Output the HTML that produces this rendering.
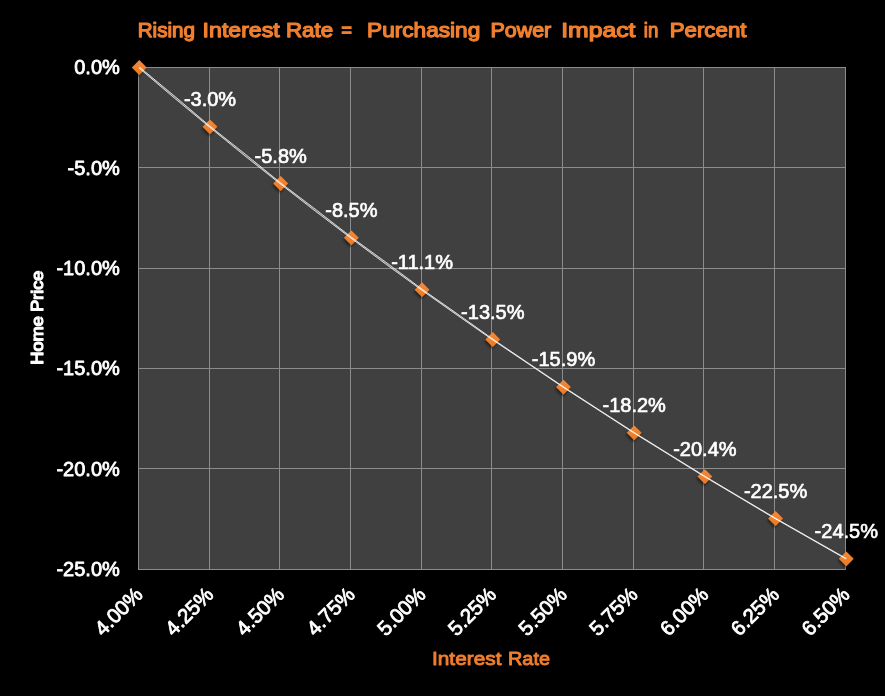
<!DOCTYPE html>
<html lang="en"><head><meta charset="utf-8"><title>Rising Interest Rate = Purchasing Power Impact in Percent</title>
<style>html,body{margin:0;padding:0;background:#000;overflow:hidden}svg{display:block}text{font-family:"Liberation Sans",Arial,sans-serif;font-weight:normal;stroke-linejoin:round}.w{fill:#fff;stroke:#fff}.o{fill:#F07F2E;stroke:#F07F2E}</style>
</head><body>
<svg width="885" height="696" viewBox="0 0 885 696">
<defs>
<filter id="sh" x="-60%" y="-60%" width="220%" height="220%"><feGaussianBlur in="SourceAlpha" stdDeviation="1.6"/><feOffset dx="-0.8" dy="1.6" result="b"/><feComponentTransfer><feFuncA type="linear" slope="0.55"/></feComponentTransfer><feMerge><feMergeNode/><feMergeNode in="SourceGraphic"/></feMerge></filter>
<linearGradient id="og" x1="0" y1="0" x2="0" y2="1"><stop offset="0" stop-color="#F28A3C"/><stop offset="1" stop-color="#EE7720"/></linearGradient>
</defs>
<rect x="0" y="0" width="885" height="696" fill="#000"/>
<rect x="138" y="67" width="708" height="503" fill="#404040"/>
<rect x="138" y="67" width="1" height="503" fill="#8c8c8c"/>
<rect x="209" y="67" width="1" height="503" fill="#8c8c8c"/>
<rect x="279" y="67" width="1" height="503" fill="#8c8c8c"/>
<rect x="350" y="67" width="1" height="503" fill="#8c8c8c"/>
<rect x="421" y="67" width="1" height="503" fill="#8c8c8c"/>
<rect x="491" y="67" width="1" height="503" fill="#8c8c8c"/>
<rect x="562" y="67" width="1" height="503" fill="#8c8c8c"/>
<rect x="633" y="67" width="1" height="503" fill="#8c8c8c"/>
<rect x="703" y="67" width="1" height="503" fill="#8c8c8c"/>
<rect x="774" y="67" width="1" height="503" fill="#8c8c8c"/>
<rect x="845" y="67" width="1" height="503" fill="#8c8c8c"/>
<rect x="138" y="67" width="708" height="1" fill="#8c8c8c"/>
<rect x="138" y="167" width="708" height="1" fill="#8c8c8c"/>
<rect x="138" y="268" width="708" height="1" fill="#8c8c8c"/>
<rect x="138" y="368" width="708" height="1" fill="#8c8c8c"/>
<rect x="138" y="468" width="708" height="1" fill="#8c8c8c"/>
<rect x="138" y="569" width="708" height="1" fill="#8c8c8c"/>
<text y="37.0" font-size="21" class="o" stroke-width="1.25"><tspan x="137.64" textLength="57.40" lengthAdjust="spacingAndGlyphs">Rising</tspan> <tspan x="202.62" textLength="77.07" lengthAdjust="spacingAndGlyphs">Interest</tspan> <tspan x="285.96" textLength="47.24" lengthAdjust="spacingAndGlyphs">Rate</tspan> <tspan x="341.25" textLength="10.76" lengthAdjust="spacingAndGlyphs">=</tspan> <tspan x="367.05" textLength="113.26" lengthAdjust="spacingAndGlyphs">Purchasing</tspan> <tspan x="490.40" textLength="60.87" lengthAdjust="spacingAndGlyphs">Power</tspan> <tspan x="561.15" textLength="74.33" lengthAdjust="spacingAndGlyphs">Impact</tspan> <tspan x="643.84" textLength="14.54" lengthAdjust="spacingAndGlyphs">in</tspan> <tspan x="669.66" textLength="76.84" lengthAdjust="spacingAndGlyphs">Percent</tspan></text>
<text x="119.8" y="74.1" font-size="20" class="w" stroke-width="0.8" text-anchor="end">0.0%</text>
<text x="119.8" y="174.5" font-size="20" class="w" stroke-width="0.8" text-anchor="end">-5.0%</text>
<text x="119.8" y="274.9" font-size="20" class="w" stroke-width="0.8" text-anchor="end">-10.0%</text>
<text x="119.8" y="375.3" font-size="20" class="w" stroke-width="0.8" text-anchor="end">-15.0%</text>
<text x="119.8" y="475.7" font-size="20" class="w" stroke-width="0.8" text-anchor="end">-20.0%</text>
<text x="119.8" y="576.1" font-size="20" class="w" stroke-width="0.8" text-anchor="end">-25.0%</text>
<text transform="translate(144.0,595.8) rotate(-45)" font-size="20.5" class="w" stroke-width="0.8" text-anchor="end">4.00%</text>
<text transform="translate(214.7,595.8) rotate(-45)" font-size="20.5" class="w" stroke-width="0.8" text-anchor="end">4.25%</text>
<text transform="translate(285.4,595.8) rotate(-45)" font-size="20.5" class="w" stroke-width="0.8" text-anchor="end">4.50%</text>
<text transform="translate(356.1,595.8) rotate(-45)" font-size="20.5" class="w" stroke-width="0.8" text-anchor="end">4.75%</text>
<text transform="translate(426.8,595.8) rotate(-45)" font-size="20.5" class="w" stroke-width="0.8" text-anchor="end">5.00%</text>
<text transform="translate(497.5,595.8) rotate(-45)" font-size="20.5" class="w" stroke-width="0.8" text-anchor="end">5.25%</text>
<text transform="translate(568.2,595.8) rotate(-45)" font-size="20.5" class="w" stroke-width="0.8" text-anchor="end">5.50%</text>
<text transform="translate(638.9,595.8) rotate(-45)" font-size="20.5" class="w" stroke-width="0.8" text-anchor="end">5.75%</text>
<text transform="translate(709.6,595.8) rotate(-45)" font-size="20.5" class="w" stroke-width="0.8" text-anchor="end">6.00%</text>
<text transform="translate(780.3,595.8) rotate(-45)" font-size="20.5" class="w" stroke-width="0.8" text-anchor="end">6.25%</text>
<text transform="translate(851.0,595.8) rotate(-45)" font-size="20.5" class="w" stroke-width="0.8" text-anchor="end">6.50%</text>
<text transform="translate(43.0,0) rotate(-90)" y="0" font-size="16" class="w" stroke-width="1.2"><tspan x="-364.74" textLength="48.73" lengthAdjust="spacingAndGlyphs">Home</tspan> <tspan x="-311.83" textLength="41.01" lengthAdjust="spacingAndGlyphs">Price</tspan></text>
<text y="665.4" font-size="18.67" class="o" stroke-width="0.9"><tspan x="432.03" textLength="69.40" lengthAdjust="spacingAndGlyphs">Interest</tspan> <tspan x="507.98" textLength="42.07" lengthAdjust="spacingAndGlyphs">Rate</tspan></text>
<g filter="url(#sh)">
<path d="M139.3 60.1 L146.7 67.5 L139.3 74.9 L131.9 67.5 Z" fill="url(#og)"/>
<path d="M210.0 119.4 L217.4 126.8 L210.0 134.2 L202.6 126.8 Z" fill="url(#og)"/>
<path d="M280.7 176.1 L288.1 183.5 L280.7 190.9 L273.3 183.5 Z" fill="url(#og)"/>
<path d="M351.4 230.4 L358.8 237.8 L351.4 245.2 L344.0 237.8 Z" fill="url(#og)"/>
<path d="M422.1 282.3 L429.5 289.7 L422.1 297.1 L414.7 289.7 Z" fill="url(#og)"/>
<path d="M492.8 332.1 L500.2 339.5 L492.8 346.9 L485.4 339.5 Z" fill="url(#og)"/>
<path d="M563.5 379.7 L570.9 387.1 L563.5 394.5 L556.1 387.1 Z" fill="url(#og)"/>
<path d="M634.2 425.4 L641.6 432.8 L634.2 440.2 L626.8 432.8 Z" fill="url(#og)"/>
<path d="M704.9 469.2 L712.3 476.6 L704.9 484.0 L697.5 476.6 Z" fill="url(#og)"/>
<path d="M775.6 511.1 L783.0 518.5 L775.6 525.9 L768.2 518.5 Z" fill="url(#og)"/>
<path d="M846.3 551.4 L853.7 558.8 L846.3 566.2 L838.9 558.8 Z" fill="url(#og)"/>
</g>
<polyline points="139.20,67.50 174.55,97.14 209.90,126.79 245.25,155.14 280.60,183.50 315.95,210.63 351.30,237.76 386.65,263.74 422.00,289.71 457.35,314.58 492.70,339.46 528.05,363.28 563.40,387.11 598.75,409.94 634.10,432.77 669.45,454.66 704.80,476.55 740.15,497.54 775.50,518.54 810.85,538.67 846.20,558.81" fill="none" stroke="#ffffff" stroke-opacity="0.35" stroke-width="1.2" stroke-linejoin="round"/>
<polyline points="139.52,67.12 175.06,96.53 210.22,126.40 245.75,154.52 280.91,183.10 316.44,210.00 351.60,237.36 387.12,263.09 422.29,289.31 457.70,314.09 492.90,339.17 528.19,363.08 563.54,386.90 598.89,409.73 634.23,432.56 669.58,454.45 704.93,476.34 740.28,497.33 775.63,518.32 810.97,538.46 846.32,558.59" fill="none" stroke="#ffffff" stroke-opacity="0.9" stroke-width="0.85" stroke-linejoin="round"/>
<polyline points="138.88,67.88 174.04,97.76 209.58,127.17 244.75,155.77 280.29,183.89 315.46,211.27 351.00,238.16 386.18,264.38 421.71,290.12 457.00,315.07 492.50,339.74 527.91,363.49 563.26,387.32 598.61,410.15 633.97,432.99 669.32,454.88 704.67,476.77 740.02,497.76 775.37,518.75 810.73,538.89 846.08,559.03" fill="none" stroke="#ffffff" stroke-opacity="0.9" stroke-width="0.85" stroke-linejoin="round"/>
<text x="210.0" y="105.9" font-size="20" class="w" stroke-width="0.65" text-anchor="middle">-3.0%</text>
<text x="280.7" y="162.6" font-size="20" class="w" stroke-width="0.65" text-anchor="middle">-5.8%</text>
<text x="351.4" y="216.9" font-size="20" class="w" stroke-width="0.65" text-anchor="middle">-8.5%</text>
<text x="422.1" y="268.8" font-size="20" class="w" stroke-width="0.65" text-anchor="middle">-11.1%</text>
<text x="492.8" y="318.6" font-size="20" class="w" stroke-width="0.65" text-anchor="middle">-13.5%</text>
<text x="563.5" y="366.2" font-size="20" class="w" stroke-width="0.65" text-anchor="middle">-15.9%</text>
<text x="634.2" y="411.9" font-size="20" class="w" stroke-width="0.65" text-anchor="middle">-18.2%</text>
<text x="704.9" y="455.7" font-size="20" class="w" stroke-width="0.65" text-anchor="middle">-20.4%</text>
<text x="775.6" y="497.6" font-size="20" class="w" stroke-width="0.65" text-anchor="middle">-22.5%</text>
<text x="846.3" y="537.9" font-size="20" class="w" stroke-width="0.65" text-anchor="middle">-24.5%</text>
</svg>
</body></html>
